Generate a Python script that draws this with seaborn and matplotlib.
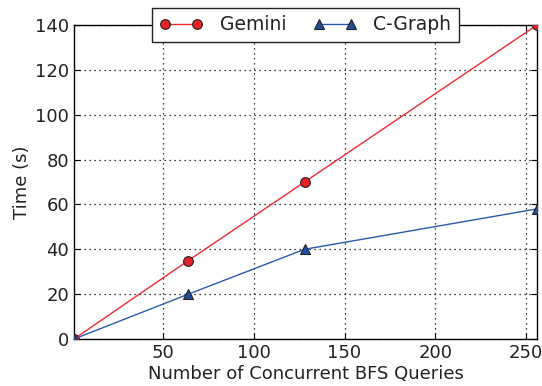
import matplotlib
matplotlib.use("Agg")
import matplotlib.pyplot as plt
import seaborn as sns
import pandas as pd

queries = [1, 64, 128, 256]
gemini = [0, 35, 70, 140]
cgraph = [0, 20, 40, 58]
series_names = ["Gemini", "C-Graph"]
xticks = [50, 100, 150, 200, 250]
yticks = [0, 20, 40, 60, 80, 100, 120, 140]

sns.set_style("ticks")
plt.rcParams['font.family'] = ['DejaVu Sans']
plt.rcParams.update({
    'xtick.direction': 'in', 'ytick.direction': 'in',
    'xtick.top': True, 'ytick.right': True,
    'xtick.major.size': 4, 'ytick.major.size': 4,
    'axes.edgecolor': 'black', 'axes.linewidth': 1.0,
    'text.color': '#222222', 'axes.labelcolor': '#222222',
    'xtick.color': 'black', 'ytick.color': 'black',
    'xtick.labelcolor': '#222222', 'ytick.labelcolor': '#222222',
})

df = pd.DataFrame({
    "x": queries * 2,
    "y": gemini + cgraph,
    "s": [series_names[0]] * 4 + [series_names[1]] * 4,
})

fig = plt.figure(figsize=(5.42, 3.86), dpi=100)
ax = fig.add_axes([74 / 542, 1 - 339 / 386, (537 - 74) / 542, (339 - 25) / 386])

palette = {"Gemini": "#ee2a30", "C-Graph": "#2a5aad"}
mfc = {"Gemini": "#e8202a", "C-Graph": "#1f4f9c"}
markers = {"Gemini": "o", "C-Graph": "^"}
for name in series_names:
    sub = df[df.s == name]
    sns.lineplot(data=sub, x="x", y="y", ax=ax, color=palette[name], linewidth=1.0,
                 marker=markers[name], markersize=7, markerfacecolor=mfc[name],
                 markeredgecolor="#222222", markeredgewidth=0.8, label=name,
                 zorder=3)

ax.set_xlim(1, 256)
ax.set_ylim(0, 140)
ax.set_xticks(xticks)
ax.set_yticks(yticks)
ax.tick_params(labelsize=13)
ax.grid(True, linestyle=(0, (1, 3)), color='black', linewidth=0.9)
ax.set_xlabel("Number of Concurrent BFS Queries", fontsize=13, labelpad=2)
ax.set_ylabel("Time (s)", fontsize=13, labelpad=3)

leg = ax.legend(loc='center', bbox_to_anchor=(0.5, 1.0), ncol=2, fontsize=13.5,
                frameon=True, fancybox=False, numpoints=2, handlelength=2.3,
                columnspacing=1.45, borderpad=0.4, handletextpad=0.9)
leg.get_frame().set_edgecolor('#222222')
leg.get_frame().set_linewidth(1.0)
leg.get_frame().set_alpha(1.0)
leg.set_zorder(10)

fig.savefig("out.png", dpi=100)
